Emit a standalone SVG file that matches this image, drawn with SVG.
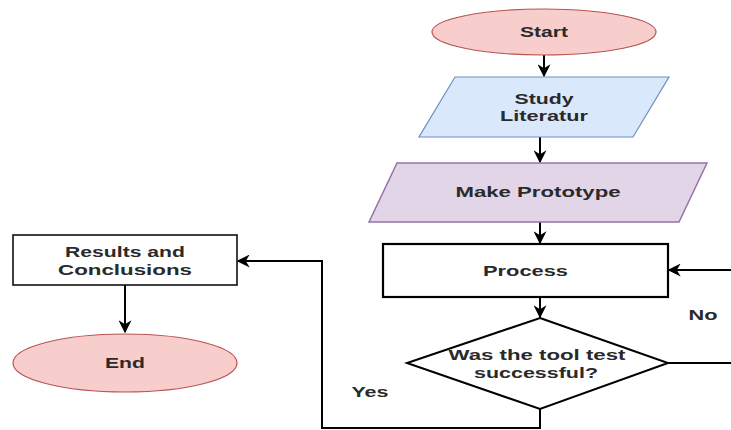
<svg xmlns="http://www.w3.org/2000/svg" width="731" height="430" viewBox="0 0 731 430">
<style>
text{font-family:"Liberation Sans",Arial,sans-serif;font-size:15px;font-weight:bold;fill:#2a2a2a;text-anchor:middle}
.c{fill:none;stroke:#000;stroke-width:2}
</style>
<defs>
<marker id="ah" viewBox="0 0 10 10" refX="9" refY="5" markerWidth="6.5" markerHeight="6.5" markerUnits="strokeWidth" orient="auto">
<path d="M0,0 L10,5 L0,10 L3,5 z" fill="#000"/>
</marker>
</defs>
<rect width="731" height="430" fill="#fff"/>
<g id="connectors">
<path class="c" d="M544,55 V76" marker-end="url(#ah)"/>
<path class="c" d="M540,137 V162" marker-end="url(#ah)"/>
<path class="c" d="M540,222 V243" marker-end="url(#ah)"/>
<path class="c" d="M540,297 V317" marker-end="url(#ah)"/>
<path class="c" d="M668,363 H740"/>
<path class="c" d="M740,270 H669" marker-end="url(#ah)"/>
<path class="c" d="M540,409 V428 H322 V261 H238" marker-end="url(#ah)"/>
<path class="c" d="M125,285 V332" marker-end="url(#ah)"/>
<text x="703" y="320" textLength="29" lengthAdjust="spacingAndGlyphs">No</text>
<text x="370" y="397" textLength="37" lengthAdjust="spacingAndGlyphs">Yes</text>
</g>
<g id="start">
<ellipse cx="544" cy="32" rx="112" ry="23" fill="#f8cecc" stroke="#b85450" stroke-width="1.2"/>
<text x="544" y="37" textLength="48" lengthAdjust="spacingAndGlyphs">Start</text>
</g>
<g id="study">
<polygon points="455,77 669,77 633,137 419,137" fill="#dae8fc" stroke="#6c8ebf" stroke-width="1.2"/>
<text x="544" y="104" textLength="59" lengthAdjust="spacingAndGlyphs">Study</text>
<text x="544" y="121" textLength="88" lengthAdjust="spacingAndGlyphs">Literatur</text>
</g>
<g id="prototype">
<polygon points="397,163 707,163 679,222 369,222" fill="#e1d5e7" stroke="#9673a6" stroke-width="1.5"/>
<text x="538" y="197" textLength="165" lengthAdjust="spacingAndGlyphs">Make Prototype</text>
</g>
<g id="process">
<rect x="383" y="244" width="285" height="53" fill="#fff" stroke="#000" stroke-width="2.2"/>
<text x="525.5" y="276" textLength="85" lengthAdjust="spacingAndGlyphs">Process</text>
</g>
<g id="decision">
<polygon points="540,318 668,363 540,409 407,363" fill="#fff" stroke="#000" stroke-width="2"/>
<text x="537" y="360" textLength="177" lengthAdjust="spacingAndGlyphs">Was the tool test</text>
<text x="536" y="378" textLength="124" lengthAdjust="spacingAndGlyphs">successful?</text>
</g>
<g id="results">
<rect x="13" y="235" width="224" height="50" fill="#fff" stroke="#000" stroke-width="1.5"/>
<text x="125" y="257" textLength="120" lengthAdjust="spacingAndGlyphs">Results and</text>
<text x="125" y="275" textLength="134" lengthAdjust="spacingAndGlyphs">Conclusions</text>
</g>
<g id="end">
<ellipse cx="125" cy="363" rx="112" ry="29" fill="#f8cecc" stroke="#b85450" stroke-width="1.2"/>
<text x="125" y="368" textLength="40" lengthAdjust="spacingAndGlyphs">End</text>
</g>
</svg>
